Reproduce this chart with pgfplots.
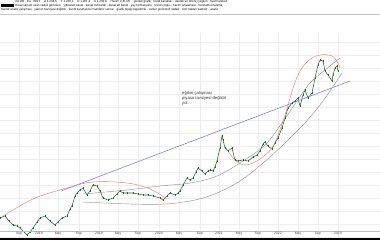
\documentclass[border=0pt]{standalone}
\usepackage{fontspec}
\setmainfont{Liberation Sans}
\usepackage{pgfplots}
\pgfplotsset{compat=1.18}
\definecolor{candle}{RGB}{45,100,55}
\definecolor{trendblue}{RGB}{115,115,230}
\definecolor{arcred}{RGB}{228,130,130}
\definecolor{arcgray}{RGB}{150,150,150}
\begin{document}
\begin{tikzpicture}[x=1bp,y=1bp]
\useasboundingbox (0,0) rectangle (380,240);
\fill[white] (0,0) rectangle (380,240);
\begin{axis}[at={(0,9)}, anchor=south west, scale only axis,
  width=380bp, height=216bp,
  xmin=0, xmax=380, ymin=15, ymax=231, y dir=reverse,
  axis line style={draw=none}, tick style={draw=none}, major tick length=0pt,
  xtick={19,39,58,79,99,118,138,159,179,200,219,239,258,278,298,318,338},
  xticklabels={},
  ytick={24,37,50,63,76,89,102,115,128,141,154,167,180,193,206,219},
  yticklabels={},
  grid=major, grid style={gray!13, line width=0.3pt},
]
% price (candles approximated by closes)
\addplot[candle, line width=0.55pt, mark=|, mark size=1.3pt, mark options={line width=0.6pt}] coordinates {
(0,200)(5,198)(9,203)(13,207)(17,208)(20,210)(24,214)(27,217)(30,214)(33,210)(37,204)(40,200)(45,198)(50,203)(55,207)(58,204)(62,200)(67,198)(70,191)(72,188)(75,178)(77,175)(80,172)(83,170)(87,177)(90,173)(93,167)(97,168)(100,173)(103,180)(108,182)(113,180)(117,176)(120,173)(123,175)(127,175)(133,175)(138,176)(143,177)(148,177)(153,178)(160,180)(163,182)(167,178)(170,175)(175,177)(178,175)(180,173)(183,167)(187,160)(190,162)(193,160)(196,154)(198,150)(202,153)(205,156)(208,153)(210,152)(213,153)(215,149)(217,143)(220,130)(222,118)(223,122)(225,130)(228,133)(232,130)(235,142)(238,143)(243,142)(248,143)(253,139)(257,137)(260,133)(263,126)(265,124)(268,128)(272,131)(275,125)(278,120)(282,110)(285,100)(288,90)(292,85)(295,83)(298,80)(300,88)(303,77)(305,72)(308,80)(312,75)(315,60)(318,47)(320,42)(323,43)(325,53)(328,57)(332,63)(333,57)(335,50)(337,48)(338,53)
};
% blue trend line
\addplot[trendblue, line width=0.5pt] coordinates {(62,172.6)(350,63)};
% red arcs
\addplot[arcred, line width=0.45pt, smooth, tension=0.6] coordinates {(0,200)(33,181)(67,170)(93,164)(127,165)(150,171)(167,181)};
\addplot[arcred, line width=0.45pt, smooth, tension=0.6] coordinates {(226,130)(235,142)(245,147)(257,143)(265,137)(272,130)(278,117)(285,97)(290,80)(298,57)(308,43)(320,37)(332,38)(338,45)(340,50)};
% gray channel
\addplot[arcgray, line width=0.45pt, smooth, tension=0.6] coordinates {(83,176)(127,172)(160,168)(190,165)(217,158)(243,143)(265,127)(282,105)(297,83)(310,65)(325,52)(340,40)};
\addplot[arcgray, line width=0.45pt, smooth, tension=0.6] coordinates {(83,184)(130,186)(165,186)(195,182)(217,175)(240,163)(263,145)(283,127)(303,107)(320,87)(332,70)(342,55)};
\node[anchor=north west, align=left, inner sep=0pt, text=black!80,
  font=\fontsize{4.2}{5}\selectfont] at (axis cs:182,73)
  {eğitim çalışması\\piyasa tavsiyesi değildir\\yol.};
\end{axis}
% bottom axis line, tick labels and strip
\draw[gray!50, line width=0.4pt] (0,9) -- (380,9);
\foreach \x/\l in {19/Sep,39/2018,58/May,79/Sep,99/2019,118/May,138/Sep,159/2020,179/May,200/Sep,219/2021,239/May,258/Sep,278/2022,298/May,318/Sep,338/2023}
  \node[anchor=north, inner sep=0pt, text=gray!60!black, font=\fontsize{3.4}{4}\selectfont] at (\x,7.6) {\l};
\fill[black] (0,0) rectangle (380,1.6);
% header
\draw[gray!45, line width=0.5pt] (0,226) -- (380,226);
\fill[black] (1,232.5) rectangle (14,236);
\node[anchor=west, inner sep=0pt, font=\fontsize{3}{3.4}\selectfont] at (15,238.3)
  {XU100 · 1G · BIST \quad A 1.234,5 \quad Y 1.240,1 \quad D 1.201,3 \quad K 1.230,8 \quad Hacim 2,31 Mr \quad günlük grafik · trend kanalları · destek ve direnç çizgileri · fiyat hareketi};
\node[anchor=west, inner sep=0pt, font=\fontsize{3}{3.4}\selectfont] at (15,234.3)
  {Hisse senedi uzun vadeli görünüm · yükselen kanal · kanal üst bandı · kanal alt bandı · yay formasyonu · trend çizgisi · hacim ortalaması · hareketli ortalama};
\node[anchor=west, inner sep=0pt, font=\fontsize{3}{3.4}\selectfont] at (1,230.1)
  {Teknik analiz çalışması · yatırım tavsiyesi değildir · kendi kararlarınızı kendiniz veriniz · grafik ölçeği logaritmik · veriler gecikmeli olabilir · tüm hakları saklıdır · analiz};
\end{tikzpicture}
\end{document}
